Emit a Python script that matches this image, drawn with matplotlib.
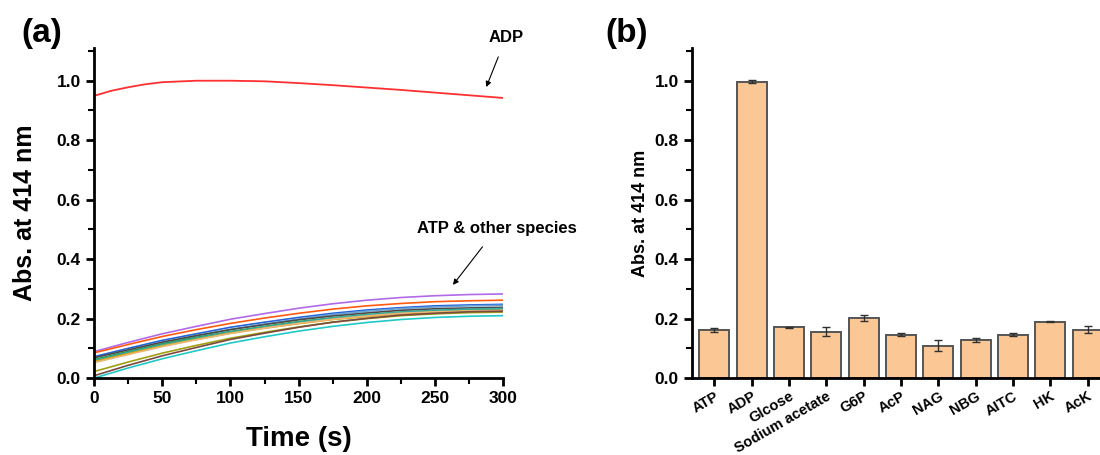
import matplotlib
matplotlib.use("Agg")
import matplotlib.pyplot as plt
import numpy as np
from matplotlib.ticker import MultipleLocator

plt.rcParams['font.family'] = ['Liberation Sans', 'DejaVu Sans']
plt.rcParams['font.weight'] = 'bold'

# ---- panel (a): time courses ----
time_s = [0, 25, 50, 75, 100, 125, 150, 175, 200, 225, 250, 275, 300]

adp_time = [0, 12.5, 25, 37.5, 50, 75, 100, 125, 150, 175, 200, 225, 250, 275, 300]
adp_curve = [0.949, 0.966, 0.978, 0.988, 0.995, 1.000, 1.000, 0.998, 0.992, 0.985, 0.977, 0.969, 0.960, 0.951, 0.942]

other_curves = [
    [0.089, 0.120, 0.149, 0.174, 0.198, 0.217, 0.235, 0.250, 0.262, 0.271, 0.277, 0.281, 0.283],
    [0.085, 0.113, 0.140, 0.163, 0.184, 0.202, 0.218, 0.232, 0.243, 0.251, 0.257, 0.260, 0.262],
    [0.072, 0.100, 0.127, 0.149, 0.171, 0.188, 0.204, 0.218, 0.229, 0.237, 0.243, 0.246, 0.248],
    [0.060, 0.090, 0.117, 0.141, 0.164, 0.182, 0.199, 0.214, 0.225, 0.234, 0.239, 0.243, 0.245],
    [0.068, 0.095, 0.121, 0.143, 0.163, 0.180, 0.196, 0.209, 0.219, 0.228, 0.233, 0.236, 0.238],
    [0.062, 0.089, 0.115, 0.137, 0.157, 0.174, 0.190, 0.203, 0.213, 0.222, 0.227, 0.230, 0.232],
    [0.058, 0.086, 0.112, 0.134, 0.155, 0.172, 0.188, 0.202, 0.213, 0.222, 0.228, 0.232, 0.234],
    [0.055, 0.082, 0.108, 0.130, 0.151, 0.168, 0.183, 0.197, 0.207, 0.216, 0.221, 0.224, 0.226],
    [0.052, 0.079, 0.106, 0.129, 0.150, 0.168, 0.184, 0.198, 0.209, 0.218, 0.223, 0.226, 0.228],
    [0.022, 0.054, 0.084, 0.110, 0.134, 0.154, 0.172, 0.188, 0.200, 0.210, 0.216, 0.220, 0.222],
    [0.008, 0.043, 0.075, 0.103, 0.130, 0.151, 0.171, 0.188, 0.201, 0.212, 0.218, 0.223, 0.225],
    [0.000, 0.034, 0.065, 0.092, 0.118, 0.139, 0.158, 0.174, 0.187, 0.197, 0.204, 0.208, 0.210],
]
other_colors = ['#b26ae8', '#ff5a10', '#2462d8', '#6aa0d8', '#4a4a4a', '#2a9a4a',
                '#3aa8a0', '#d8a000', '#e8b878', '#a0a010', '#7a4a40', '#20c8c8']

# ---- panel (b): bars ----
species = ['ATP', 'ADP', 'Glcose', 'Sodium acetate', 'G6P', 'AcP', 'NAG', 'NBG', 'AITC', 'HK', 'AcK']
absorb = [0.162, 0.997, 0.171, 0.156, 0.202, 0.146, 0.109, 0.127, 0.146, 0.189, 0.162]
absorb_err = [0.006, 0.004, 0.002, 0.016, 0.010, 0.006, 0.018, 0.007, 0.005, 0.002, 0.012]

fig = plt.figure(figsize=(11, 4.55), dpi=100)
ax1 = fig.add_axes([0.0855, 0.169, 0.372, 0.7255])
ax2 = fig.add_axes([0.629, 0.169, 0.371, 0.7255])

for vals, c in zip(other_curves, other_colors):
    ax1.plot(time_s, vals, color=c, lw=1.2)
ax1.plot(adp_time, adp_curve, color='#ff3030', lw=1.3)

ax1.set_xlim(0, 300)
ax1.set_ylim(0, 1.11)
ax1.xaxis.set_major_locator(MultipleLocator(50))
ax1.xaxis.set_minor_locator(MultipleLocator(25))
ax1.yaxis.set_major_locator(MultipleLocator(0.2))
ax1.yaxis.set_minor_locator(MultipleLocator(0.1))
ax1.set_xlabel('Time (s)', fontsize=20, fontweight='bold', labelpad=14)
ax1.set_ylabel('Abs. at 414 nm', fontsize=18, fontweight='bold', labelpad=14)

ax1.annotate('ADP', xy=(286.8, 0.970), xytext=(302, 1.145), ha='center', va='center',
             fontsize=12, fontweight='bold', annotation_clip=False,
             arrowprops=dict(arrowstyle='-|>', color='black', lw=0.8, shrinkA=7, mutation_scale=8))
ax1.annotate('ATP & other species', xy=(261.9, 0.306), xytext=(295, 0.502), ha='center', va='center',
             fontsize=12, fontweight='bold', annotation_clip=False,
             arrowprops=dict(arrowstyle='-|>', color='black', lw=0.8, shrinkA=7, mutation_scale=8))

x = np.arange(len(species))
ax2.bar(x, absorb, width=0.8, color='#fbc895', edgecolor='#555555', linewidth=1.4,
        yerr=absorb_err, capsize=3, error_kw=dict(ecolor='#303030', elinewidth=1, capthick=1))
ax2.set_xlim(-0.6, 10.33)
ax2.set_ylim(0, 1.11)
ax2.set_xticks(x)
ax2.set_xticklabels(species, rotation=30, ha='right', rotation_mode='anchor', fontsize=10.5, fontweight='bold')
ax2.yaxis.set_major_locator(MultipleLocator(0.2))
ax2.yaxis.set_minor_locator(MultipleLocator(0.1))
ax2.set_ylabel('Abs. at 414 nm', fontsize=13, fontweight='bold')

for ax in (ax1, ax2):
    ax.spines['top'].set_visible(False)
    ax.spines['right'].set_visible(False)
    for s in ('left', 'bottom'):
        ax.spines[s].set_linewidth(2)
    ax.tick_params(which='major', direction='out', length=6, width=2, labelsize=12.5)
    ax.tick_params(which='minor', direction='out', length=4, width=1.5)
    for lab in ax.get_yticklabels():
        lab.set_fontweight('bold')
ax2.tick_params(axis='x', which='major', labelsize=10.5, pad=2)
for lab in ax1.get_xticklabels():
    lab.set_fontweight('bold')

fig.text(0.019, 0.927, '(a)', fontsize=24, fontweight='bold', va='center')
fig.text(0.55, 0.927, '(b)', fontsize=24, fontweight='bold', va='center')

fig.savefig('out.png', dpi=100)
